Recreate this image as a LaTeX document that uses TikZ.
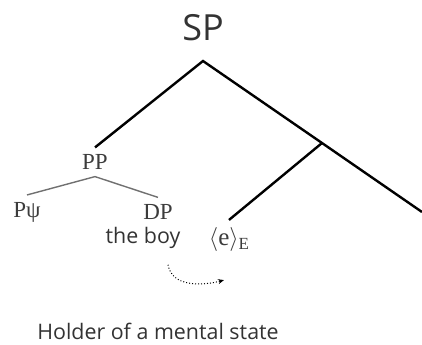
\documentclass[tikz,border=0pt]{standalone}
\usepackage{fontspec}
\setsansfont{Open Sans}
\newfontfamily\treefont{Liberation Serif}
\usetikzlibrary{arrows.meta}
\definecolor{InkGray}{HTML}{333333}
\definecolor{LabelGray}{HTML}{3C3C3C}
\definecolor{TwigGray}{HTML}{707070}

\tikzset{
  cat/.style={text=LabelGray, font=\treefont\fontsize{11.5}{13}\selectfont},
  gloss/.style={text=InkGray, font=\sffamily\fontsize{10.7}{12}\selectfont},
  trunk/.style={draw=black, line width=1.2pt},
  twig/.style={draw=TwigGray, line width=0.7pt},
  trace/.style={densely dotted, line width=0.5pt, -{Stealth[length=3pt,width=2.5pt]}}
}

\begin{document}
\begin{tikzpicture}[x=0.5pt,y=-0.5pt]
  \useasboundingbox (0,0) rectangle (422,344);
  % top of the tree
  \node[gloss, font=\sffamily\fontsize{18}{20}\selectfont] (sp) at (203,28) {SP};
  \coordinate (sp-top) at (203,61);
  \coordinate (s-bar) at (322,143);
  \coordinate (s-edge) at (422,212);
  % nodes
  \node[cat] (pp) at (95,162) {PP};
  \node[cat] (psi) at (27,212) {Pψ};
  \node[cat] (dp) at (158,212) {DP};
  \node[gloss] (boy) at (143,238) {the boy};
  \node[cat, font=\treefont\fontsize{12.5}{14}\selectfont] (e) at (229,239) {$\langle$e$\rangle$\raisebox{-0.35ex}{\fontsize{8.5}{9}\selectfont E}};
  \node[gloss] (holder) at (158,331) {Holder of a mental state};
  % branches
  \draw[trunk] (pp.north) -- (sp-top) -- (s-bar) -- (s-edge);
  \draw[trunk] (s-bar) -- (e.north);
  \draw[twig] (psi.north) -- (pp.south) -- (dp.north);
  \draw[trace] ([shift={(25,9)}]boy.south) to[out=-80,in=195] ([shift={(-5,22)}]e.south);
\end{tikzpicture}
\end{document}
